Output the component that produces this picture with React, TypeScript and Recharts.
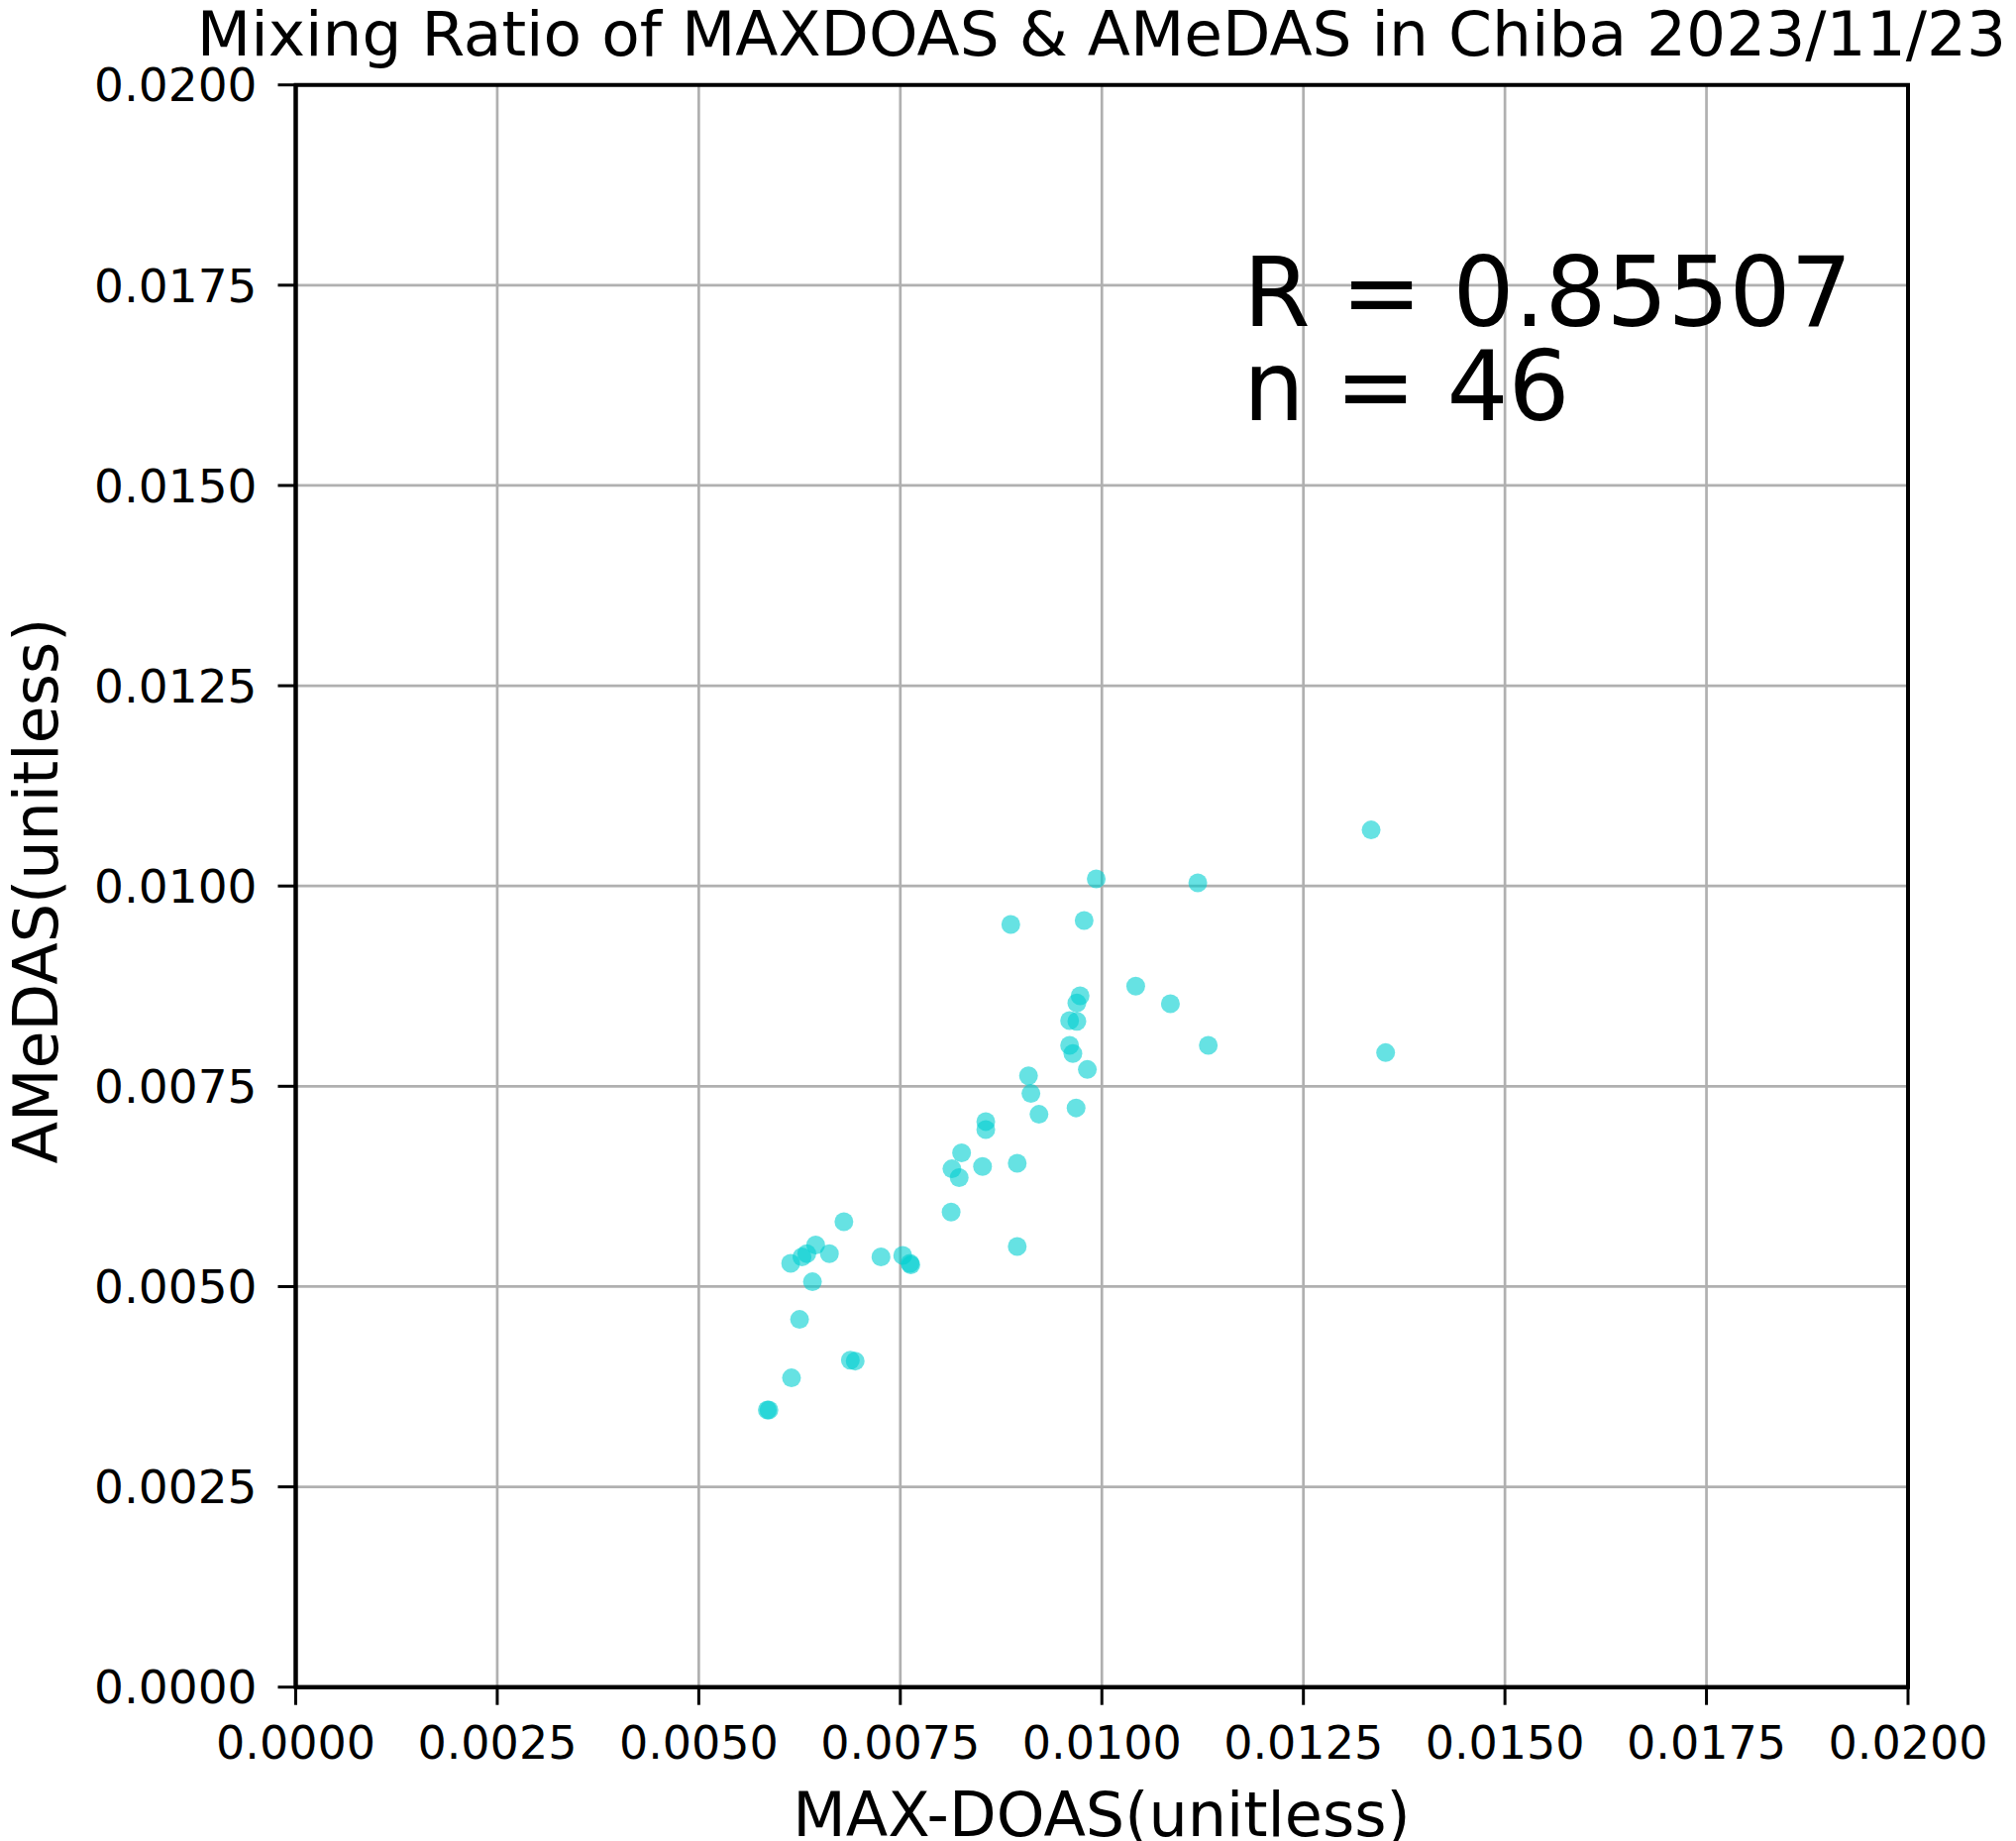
import React from 'react'
import {
  ScatterChart,
  Scatter,
  XAxis,
  YAxis,
  CartesianGrid,
  ReferenceArea,
} from 'recharts'

// MAX-DOAS vs AMeDAS mixing ratio, Chiba 2023/11/23
const maxdoas = [
  0.01334, 0.00993, 0.01119, 0.00887, 0.00978, 0.01042, 0.01085, 0.01132, 0.01352, 0.00973,
  0.00969, 0.0096, 0.00969, 0.0096, 0.00964, 0.00982, 0.00909, 0.00912, 0.00922, 0.00968,
  0.00856, 0.00856, 0.00826, 0.00814, 0.00823, 0.00852, 0.00895, 0.00813, 0.00895, 0.0068,
  0.00645, 0.00662, 0.00628, 0.00634, 0.00614, 0.00726, 0.00753, 0.00762, 0.00763, 0.00641,
  0.00625, 0.00688, 0.00694, 0.00615, 0.00585, 0.00587,
]
const amedas = [
  0.0107, 0.01009, 0.01004, 0.00952, 0.00957, 0.00875, 0.00853, 0.00801, 0.00792, 0.00863,
  0.00854, 0.00832, 0.00831, 0.00801, 0.00791, 0.00771, 0.00763, 0.00741, 0.00715, 0.00723,
  0.00706, 0.00696, 0.00667, 0.00647, 0.00636, 0.0065, 0.00654, 0.00593, 0.0055, 0.00581,
  0.00552, 0.00541, 0.00537, 0.00541, 0.00529, 0.00537, 0.00539, 0.00529, 0.00527, 0.00506,
  0.00459, 0.00408, 0.00407, 0.00386, 0.00346, 0.00346,
]
const ticks = [0, 0.0025, 0.005, 0.0075, 0.01, 0.0125, 0.015, 0.0175, 0.02]
const rValue = '0.85507'

const data = maxdoas.map((x, i) => ({ x, y: amedas[i] }))

const font = 'DejaVu Sans'
const xTickStyle = { fill: '#000', fontSize: 46, fontFamily: font }
const yTickStyle = { fill: '#000', fontSize: 47, fontFamily: font }

const Dot = (props: any) => (
  <circle cx={props.cx} cy={props.cy} r={9.5} fill="#00CED1" fillOpacity={0.6} />
)

export default function App() {
  return (
    <div style={{ position: 'relative', width: 2035, height: 1858, background: '#fff' }}>
      <style>{'body{margin:0}'}</style>
      <ScatterChart
        width={2035}
        height={1858}
        margin={{ top: 85.7, right: 109, left: 98.5, bottom: 55.3 }}
      >
        <CartesianGrid stroke="#b0b0b0" strokeWidth={2.7} />
        <XAxis
          type="number"
          dataKey="x"
          domain={[0, 0.02]}
          ticks={ticks}
          interval={0}
          allowDataOverflow
          height={100}
          tickSize={18}
          tickMargin={22}
          tick={xTickStyle}
          tickFormatter={(v: number) => v.toFixed(4)}
          tickLine={{ stroke: '#000', strokeWidth: 3 }}
          axisLine={{ stroke: '#000', strokeWidth: 4 }}
        />
        <YAxis
          type="number"
          dataKey="y"
          domain={[0, 0.02]}
          ticks={ticks}
          interval={0}
          allowDataOverflow
          width={200}
          tickSize={18}
          tickMargin={21}
          tick={yTickStyle}
          tickFormatter={(v: number) => v.toFixed(4)}
          tickLine={{ stroke: '#000', strokeWidth: 3 }}
          axisLine={{ stroke: '#000', strokeWidth: 4 }}
        />
        <ReferenceArea
          x1={0}
          x2={0.02}
          y1={0}
          y2={0.02}
          fill="none"
          stroke="#000"
          strokeWidth={4}
          ifOverflow="visible"
        />
        <Scatter data={data} shape={Dot} isAnimationActive={false} />
      </ScatterChart>
      <svg
        width={2035}
        height={1858}
        style={{ position: 'absolute', left: 0, top: 0, pointerEvents: 'none' }}
        fontFamily={font}
      >
        <text x={1112} y={56} textAnchor="middle" fontSize={63}>
          Mixing Ratio of MAXDOAS &amp; AMeDAS in Chiba 2023/11/23
        </text>
        <text x={1112} y={1853} textAnchor="middle" fontSize={62}>
          MAX-DOAS(unitless)
        </text>
        <text
          x={58}
          y={899}
          textAnchor="middle"
          fontSize={62}
          transform="rotate(-90 58 899)"
        >
          AMeDAS(unitless)
        </text>
        <text x={1255} y={329} fontSize={97.5}>
          R = {rValue}
        </text>
        <text x={1255} y={424} fontSize={97.5}>
          n = {data.length}
        </text>
      </svg>
    </div>
  )
}
